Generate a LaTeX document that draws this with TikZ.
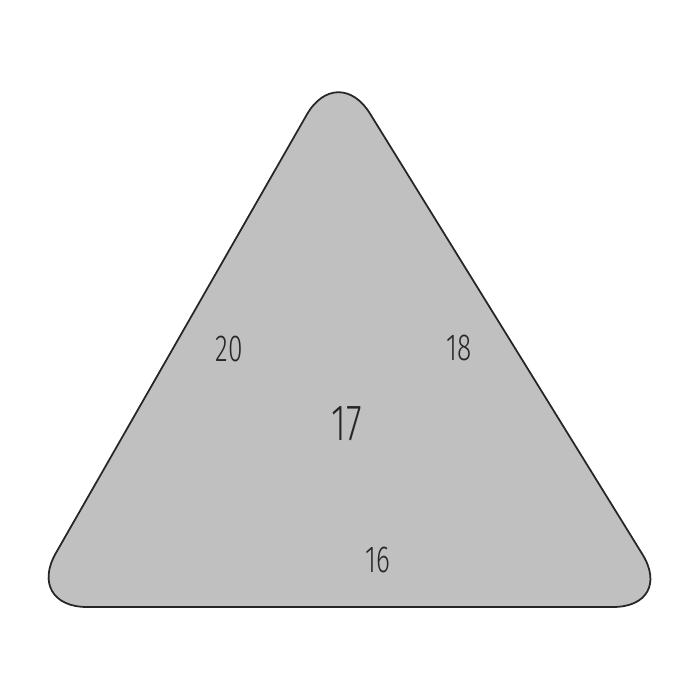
\documentclass[tikz,border=0pt]{standalone}
\usepackage{fontspec}
\setmainfont{Fira Sans}[UprightFont=* Light]
\begin{document}
\begin{tikzpicture}[x=0.01cm,y=-0.01cm,
  lbl/.style={inner sep=0pt, text=black!85, xscale=0.7},
  small/.style={lbl, font=\fontsize{10.7pt}{12pt}\selectfont},
  big/.style={lbl, font=\fontsize{14.5pt}{16pt}\selectfont}]
\useasboundingbox (0,0) rectangle (700,700);
\coordinate (A) at (337.5,61);
\coordinate (B) at (25,607);
\coordinate (C) at (675,607);
\draw[fill={rgb,255:red,192;green,192;blue,192}, draw=black!85, line width=0.5pt, rounded corners=0.62cm]
  (B) -- (A) -- (C) -- cycle;
\node[small] (n20) at (229,349) {20};
\node[small] (n18) at (459,348) {18};
\node[big] (n17) at (347,424) {17};
\node[small] (n16) at (378,560) {16};
\end{tikzpicture}
\end{document}
